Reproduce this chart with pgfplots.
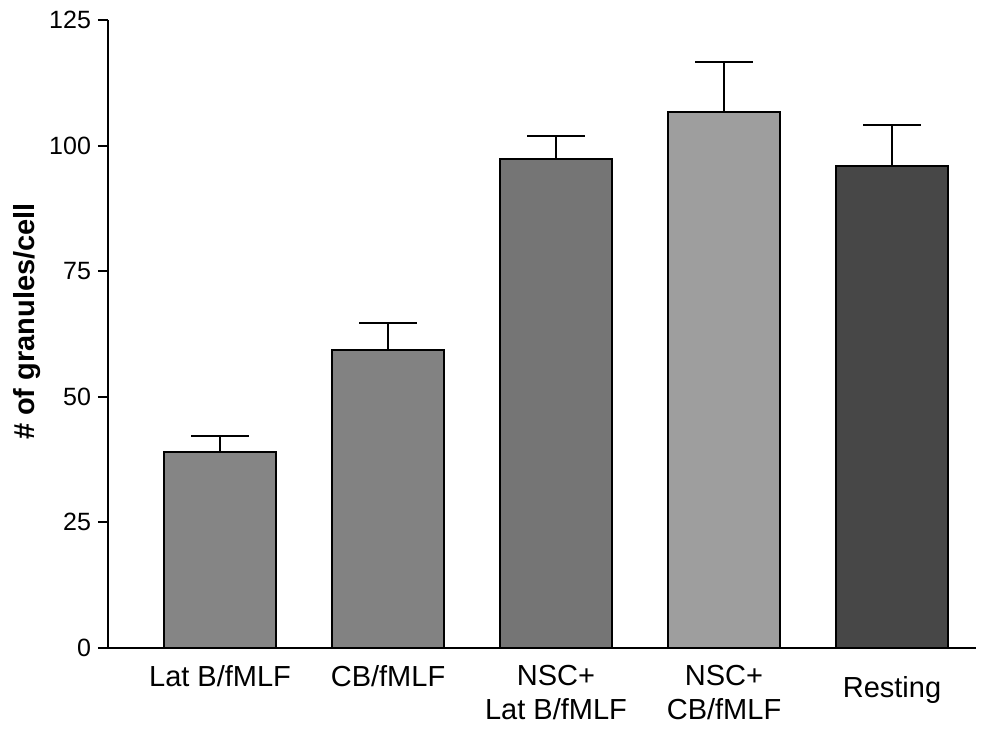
\documentclass[border=0pt]{standalone}
\usepackage{pgfplots}
\pgfplotsset{compat=1.18}
\usepackage{fontspec}
\setmainfont{Liberation Sans}
\definecolor{barA}{gray}{0.52}
\definecolor{barB}{gray}{0.51}
\definecolor{barC}{gray}{0.46}
\definecolor{barD}{gray}{0.62}
\definecolor{barE}{gray}{0.28}
\pgfplotsset{
  myerr/.style={
    error bars/y dir=plus, error bars/y explicit,
    error bars/error bar style={line width=1pt, black},
    error bars/error mark options={rotate=90, mark size=14.5pt, line width=1pt, black},
  }
}
\begin{document}
\begin{tikzpicture}
\useasboundingbox (-54pt,-41.5pt) rectangle (444.5pt,324pt);
\begin{axis}[
  at={(0,0)}, anchor=south west,
  scale only axis, width=434pt, height=314pt,
  xmin=-0.667, xmax=4.5, ymin=0, ymax=125,
  axis x line=bottom, axis y line=left,
  axis line style={line width=1pt, -},
  xtick={0,1,2,3,4},
  xticklabels={Lat B/fMLF, CB/fMLF, {NSC+\\Lat B/fMLF}, {NSC+\\CB/fMLF}, {\raisebox{-5.5pt}[\height][\depth]{Resting}}},
  xtick style={draw=none},
  xticklabel style={font=\fontsize{14.5}{17}\selectfont, align=center, anchor=north, yshift=0pt},
  ytick={0,25,50,75,100,125},
  ytick style={line width=1pt, black},
  tick align=outside, major tick length=5pt,
  yticklabel style={font=\fontsize{12.5}{14}\selectfont},
  /pgf/number format/assume math mode=true,
  ylabel={\bfseries \# of granules/cell},
  ylabel style={font=\fontsize{14.5}{17}\selectfont, at={(axis description cs:-0.0933,0.52)}, anchor=center},
  ybar, bar width=56pt, bar shift=0pt,
  every axis plot/.append style={draw=black, line width=1pt},
]
\addplot[fill=barA, myerr] coordinates {(0,39.1) +- (0,3.0)};
\addplot[fill=barB, myerr] coordinates {(1,59.4) +- (0,5.2)};
\addplot[fill=barC, myerr] coordinates {(2,97.3) +- (0,4.6)};
\addplot[fill=barD, myerr] coordinates {(3,106.6) +- (0,10.0)};
\addplot[fill=barE, myerr] coordinates {(4,95.9) +- (0,8.1)};
\end{axis}
\end{tikzpicture}
\end{document}
